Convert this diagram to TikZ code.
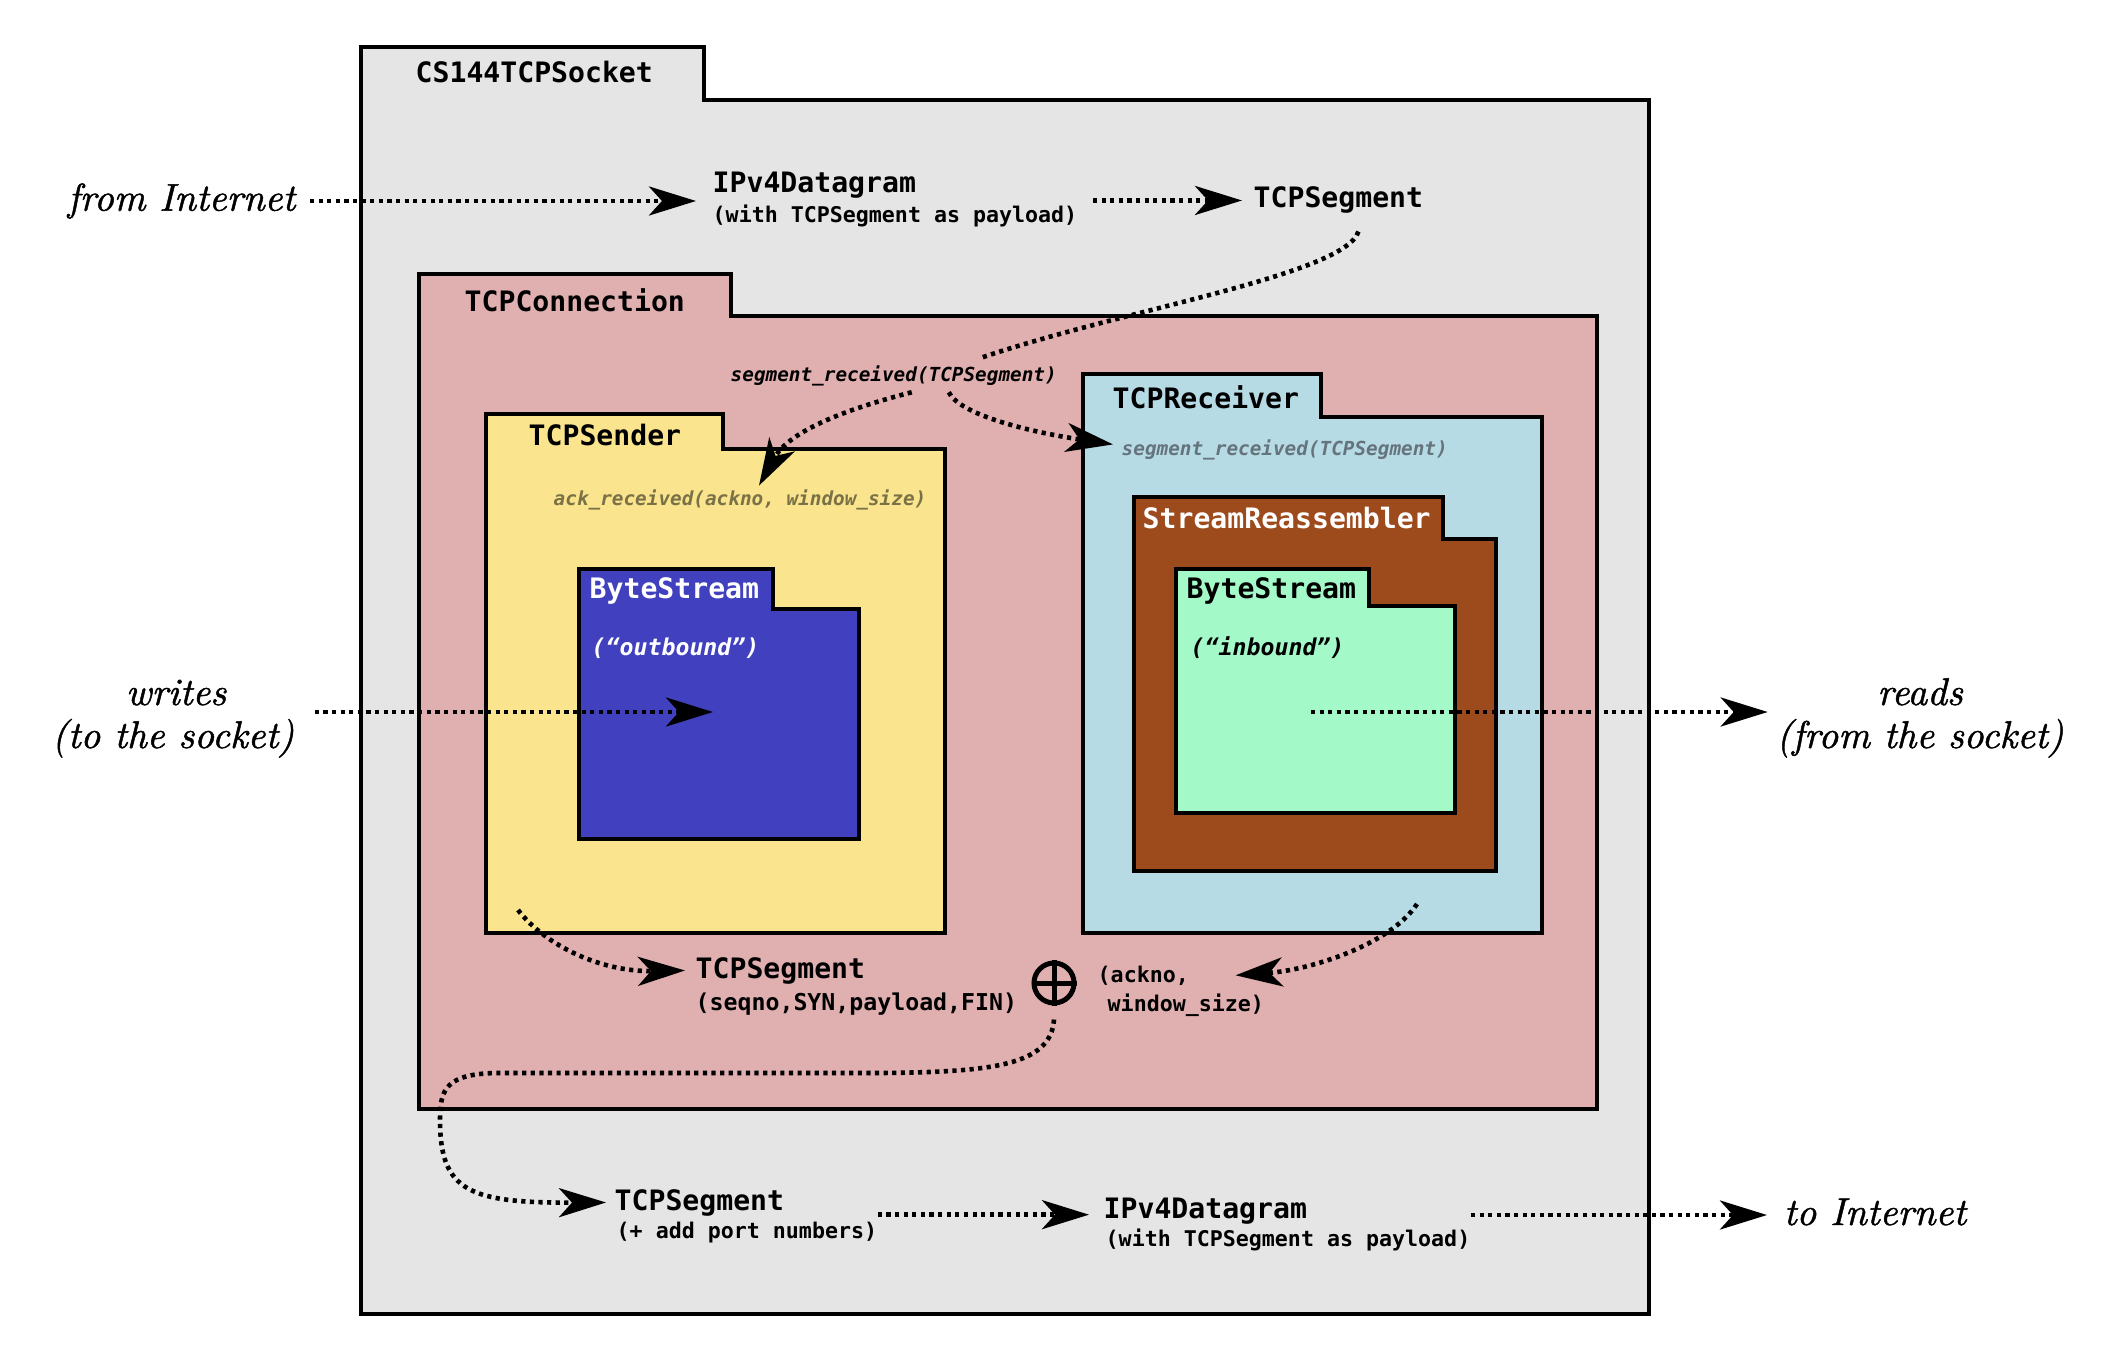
\documentclass[tikz,border=0pt]{standalone}
\usepackage{fontspec}
\newfontfamily\dvm{DejaVu Sans Mono}
\newfontface\serifit{lmroman10-italic.otf}[FakeBold=1.2]
\usetikzlibrary{arrows.meta,calc}
\definecolor{sockgray}{HTML}{E5E5E5}
\definecolor{connpink}{HTML}{E0AFB0}
\definecolor{sendyellow}{HTML}{FAE48E}
\definecolor{bsblue}{HTML}{4141BF}
\definecolor{recvblue}{HTML}{B7DBE5}
\definecolor{reasmbrown}{HTML}{9D4A1C}
\definecolor{bsgreen}{HTML}{A3F9C7}
\definecolor{ackolive}{HTML}{7A7246}
\definecolor{recvgray}{HTML}{65737C}
\tikzset{
  box/.style={draw=black, line width=0.04cm, line join=miter},
  flowplain/.style={line width=0.046cm, dash pattern=on 0.042cm off 0.044cm},
  flow/.style={flowplain, -{Stealth[length=0.47cm, width=0.29cm, inset=0.13cm]}},
  title/.style={font=\dvm\bfseries\fontsize{8pt}{9.6pt}\selectfont, inner sep=0pt, anchor=base west},
  sub/.style={font=\dvm\bfseries\fontsize{6.15pt}{7.4pt}\selectfont, inner sep=0pt, anchor=base west},
  subbig/.style={font=\dvm\bfseries\fontsize{6.6pt}{7.9pt}\selectfont, inner sep=0pt, anchor=base west},
  tag/.style={font=\dvm\bfseries\itshape\fontsize{6.6pt}{7.9pt}\selectfont, inner sep=0pt, anchor=base west},
  meth/.style={font=\dvm\bfseries\itshape\fontsize{5.5pt}{6.6pt}\selectfont, inner sep=0pt, anchor=base west},
  ackmeth/.style={font=\dvm\bfseries\itshape\fontsize{5.5pt}{6.6pt}\selectfont, inner sep=0pt, anchor=base west},
  serif/.style={font=\serifit\fontsize{11pt}{13pt}\selectfont, inner sep=0pt},
}
\def\cfolder#1#2#3#4#5#6#7{\filldraw[box, fill=#1] (#2,#3) -- (#4,#3) -- (#4,#5) -- (#6,#5) -- (#6,#7) -- (#2,#7) -- cycle;}
\begin{document}
\begin{tikzpicture}[x=0.01cm, y=-0.01cm]
\useasboundingbox (0,0) rectangle (2110,1370);
\fill[white] (0,0) rectangle (2110,1370);
% nested folders
\cfolder{sockgray}{361}{47}{704}{100}{1649}{1314}
\cfolder{connpink}{419}{274}{731}{316}{1597}{1109}
\cfolder{sendyellow}{486}{414}{723}{449}{945}{933}
\cfolder{bsblue}{579}{569}{773}{609}{859}{839}
\cfolder{recvblue}{1083}{374}{1321}{417}{1542}{933}
\cfolder{reasmbrown}{1134}{497}{1443}{539}{1496}{871}
\cfolder{bsgreen}{1176}{569}{1369}{606}{1455}{813}
% titles
\node[title] (tSocket) at (415,83) {CS144TCPSocket};
\node[title] (tConn) at (464,311) {TCPConnection};
\node[title] (tSender) at (528,445) {TCPSender};
\node[title, text=white] (tBSout) at (589,598) {ByteStream};
\node[tag, text=white] (tOut) at (591,655) {(“outbound”)};
\node[title] (tRecv) at (1112,408) {TCPReceiver};
\node[title, text=white] (tReasm) at (1142,528) {StreamReassembler};
\node[title] (tBSin) at (1186,598) {ByteStream};
\node[tag] (tIn) at (1190,655) {(“inbound”)};
% flow labels
\node[serif, anchor=east] (fromInt) at (296,201) {from Internet};
\node[title] (ipv4a) at (712,193) {IPv4Datagram};
\node[sub] (ipv4aSub) at (712,223) {(with TCPSegment as payload)};
\node[title] (segTop) at (1253,208) {TCPSegment};
\node[meth] (segRecv) at (730,381) {segment\_received(TCPSegment)};
\node[ackmeth, text=ackolive] (ackRecv) at (553,505) {ack\_received(ackno, window\_size)};
\node[meth, text=recvgray] (recvSeg) at (1121,455) {segment\_received(TCPSegment)};
\node[title] (segOut) at (695,978) {TCPSegment};
\node[subbig] (segOutSub) at (695,1010) {(seqno,SYN,payload,FIN)};
\node[sub] (ackNo1) at (1097,982) {(ackno,};
\node[sub] (ackNo2) at (1107,1011) {window\_size)};
\node[circle, draw, line width=0.05cm, minimum size=0.40cm, inner sep=0pt] (oplus) at (1054,983) {};
\draw[line width=0.05cm] (oplus.north) -- (oplus.south) (oplus.west) -- (oplus.east);
\node[title] (segBot) at (614,1210) {TCPSegment};
\node[sub] (segBotSub) at (616,1238) {(+ add port numbers)};
\node[title] (ipv4b) at (1103,1218) {IPv4Datagram};
\node[sub] (ipv4bSub) at (1105,1246) {(with TCPSegment as payload)};
\node[serif, anchor=base west] (toInt) at (1783,1225) {to Internet};
\node[serif, anchor=base] (writes1) at (176,705) {writes};
\node[serif, anchor=base] (writes2) at (173,748) {(to the socket)};
\node[serif, anchor=base] (reads1) at (1920,705) {reads};
\node[serif, anchor=base] (reads2) at (1920,748) {(from the socket)};
% free ends inside boxes
\coordinate (wEnd) at (713,712);
\coordinate (rStart) at (1311,712);
\coordinate (sendOut) at (518,910);
\coordinate (recvOut) at (1417,904);
\coordinate (bArrowY) at ([yshift=-0.04cm]ipv4b.west);
\coordinate (tArrowY) at ([yshift=-0.03cm]toInt.west);
% connectors
\draw[flow, shorten <=0.14cm, shorten >=0.16cm] (fromInt.east) -- (fromInt.east -| ipv4a.west);
\draw[flow, shorten <=0.15cm, shorten >=0.11cm] (ipv4aSub.east |- segTop.west) -- (segTop.west);
\draw[flowplain] ([xshift=0.2cm,yshift=-0.17cm]segTop.south) .. controls (1345,275) and (1120,310) .. ($(segRecv.north)+(85,-6)$);
\draw[flow] ($(segRecv.south)+(18,6)$) .. controls (850,408) and (790,430) .. ($(ackRecv.north)+(19,-3)$);
\draw[flow] ($(segRecv.south)+(55,6)$) .. controls (960,415) and (1030,432) .. ($(recvSeg.west)+(-8,-5)$);
\draw[flow, shorten <=0.2cm] (writes2.east |- wEnd) -- (wEnd);
\draw[flow, shorten >=0.08cm] (rStart) -- (rStart -| reads2.west);
\draw[flow] (sendOut) .. controls (545,945) and (600,972) .. ($(segOut.west)+(-10,0)$);
\draw[flow] (recvOut) .. controls (1390,945) and (1310,970) .. ($(ackNo1.east)+(46,0)$);
\draw[flow] ([yshift=-0.14cm]oplus.south) .. controls (1051,1066) and (990,1072) .. (880,1073) -- (500,1073) .. controls (445,1073) and (440,1090) .. (440,1120) .. controls (440,1192) and (470,1203) .. ($(segBot.west)+(-8,0)$);
\draw[flow, shorten >=0.14cm] (bArrowY -| segBotSub.east) -- (bArrowY);
\draw[flow, shorten >=0.16cm] (tArrowY -| ipv4bSub.east) -- (tArrowY);
\end{tikzpicture}
\end{document}
